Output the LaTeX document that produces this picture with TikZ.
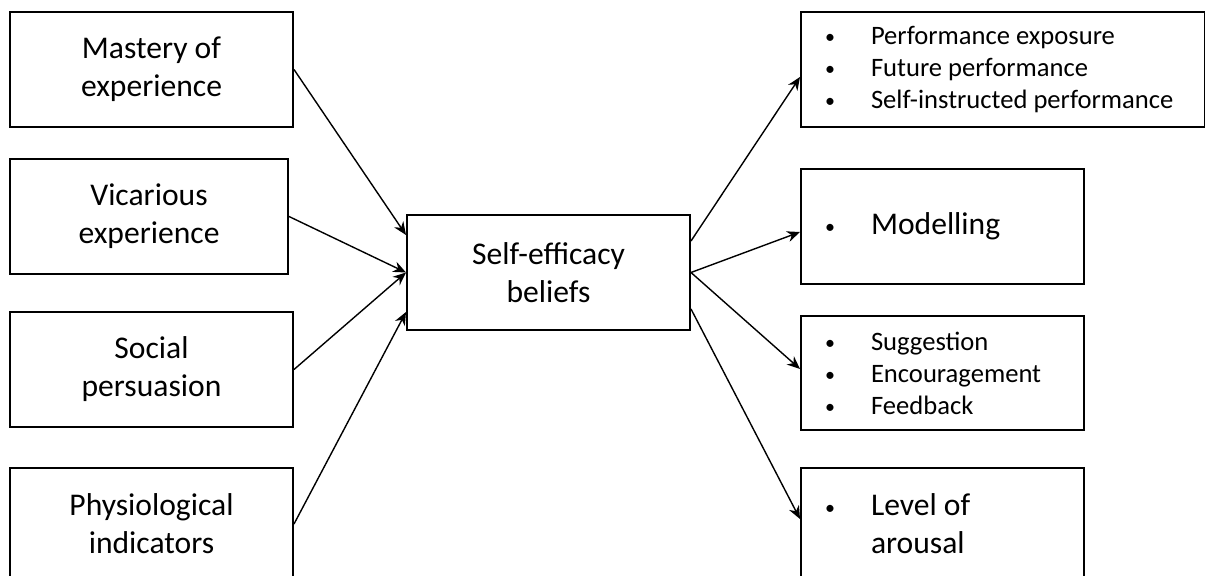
\documentclass[tikz,border=0pt]{standalone}
\usepackage{fontspec}
\setmainfont{Carlito}
\usetikzlibrary{arrows.meta, positioning, calc}
\newcommand{\bitem}{\makebox[23pt][l]{\raisebox{0.5pt}{\fontsize{10}{10}\selectfont\textbullet}}}
\newcommand{\bgap}{\hspace*{23pt}}
\tikzset{
    source/.style={
        rectangle,
        draw=black,
        line width=1pt,
        minimum width=141.5pt,
        minimum height=57.5pt,
        align=center,
        font=\fontsize{15.8}{19}\selectfont
    },
    outcome/.style={
        rectangle,
        draw=black,
        line width=1pt,
        minimum height=57.5pt,
        inner xsep=12pt,
        text width=117.5pt,
        align=flush left,
        font=\fontsize{15.8}{19}\selectfont
    },
    slist/.style={
        font=\fontsize{13.3}{16}\selectfont
    },
    arrow/.style={
        line width=0.7pt,
        -{Stealth[length=6.5pt,width=5.5pt]}
    },
}
\begin{document}
\begin{tikzpicture}
\useasboundingbox (0,0) rectangle (602.5pt,-288pt);

% Source L1
\node[source] (L1) at (75.75pt,-34.75pt) {
    Mastery of\\
    experience
};

% Source L2
\node[source, minimum width=139pt, below=15pt of L1.south west, anchor=north west] (L2) {
    Vicarious\\
    experience
};

% Source L3
\node[source, below=18pt of L2.south west, anchor=north west] (L3) {
    Social\\
    persuasion
};

% Source L4
\node[source, minimum height=56pt, below=19.5pt of L3.south west, anchor=north west] (L4) {
    Physiological\\
    indicators
};

% Beliefs
\node[source] (SE) at (274.25pt,-136.25pt) {
    Self-efficacy\\
    beliefs
};

% Outcome R1
\node[outcome, slist, text width=178pt, anchor=west] (R1) at (400pt,-34.75pt) {
    \bitem Performance exposure\\
    \bitem Future performance\\
    \bitem Self-instructed performance
};

% Outcome R2
\node[outcome, below=20pt of R1.south west, anchor=north west] (R2) {
    \bitem Modelling
};

% Outcome R3
\node[outcome, slist, minimum height=57pt, below=15pt of R2.south west, anchor=north west] (R3) {
    \bitem Suggestion\\
    \bitem Encouragement\\
    \bitem Feedback
};

% Outcome R4
\node[outcome, minimum height=56pt, below=18pt of R3.south west, anchor=north west] (R4) {
    \bitem Level of\\
    \bgap arousal
};

% Arrows in
\draw[arrow] (L1.east) -- ([yshift=18.75pt]SE.west);
\draw[arrow] (L2.east) -- (SE.west);
\draw[arrow] (L3.east) -- (SE.west);
\draw[arrow] (L4.east) -- ([yshift=-19.75pt]SE.west);

% Arrows out
\draw[arrow] ([yshift=15.75pt]SE.east) -- ([yshift=-3.75pt]R1.west);
\draw[arrow] (SE.east) -- ([yshift=-2.75pt]R2.west);
\draw[arrow] (SE.east) -- ([yshift=2pt]R3.west);
\draw[arrow] ([yshift=-18.25pt]SE.east) -- ([yshift=2.5pt]R4.west);

\end{tikzpicture}
\end{document}
